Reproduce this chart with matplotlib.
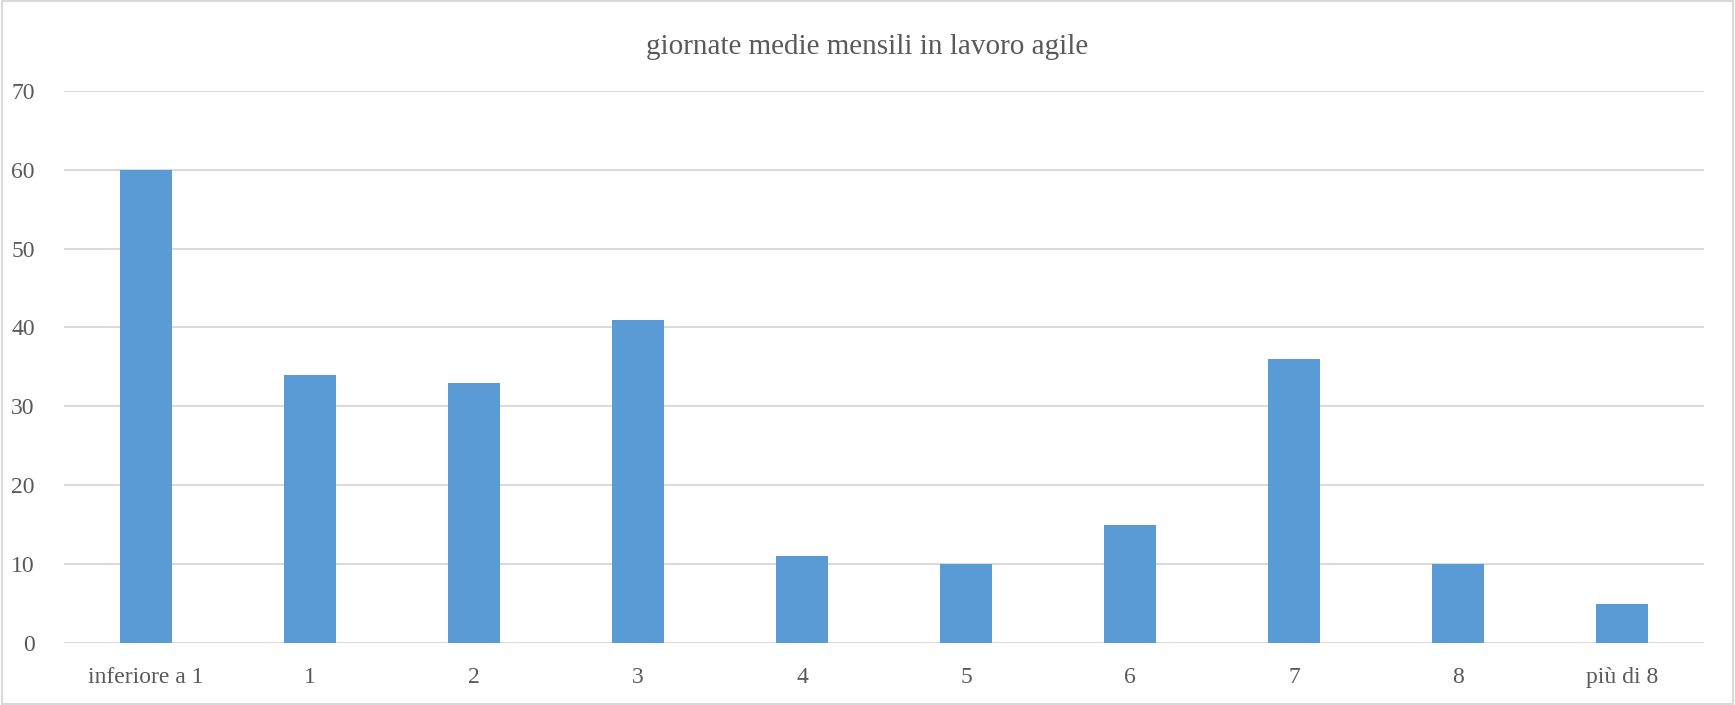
import matplotlib.pyplot as plt
import matplotlib.patches as patches
import numpy as np

# giornate medie mensili in lavoro agile
categorie = ["inferiore a 1", "1", "2", "3", "4", "5", "6", "7", "8", "più di 8"]
valori = [60, 34, 33, 41, 11, 10, 15, 36, 10, 5]
tacche_y = [0, 10, 20, 30, 40, 50, 60, 70]

plt.rcParams['font.family'] = ['Liberation Serif', 'DejaVu Serif']
grigio = "#595959"

fig = plt.figure(figsize=(17.35, 7.05), dpi=100)
ax = fig.add_axes([0.0369, 0.088, 0.9452, 0.7833])

x = np.arange(len(categorie))
ax.bar(x, valori, width=0.32, color="#5B9BD5", linewidth=0, zorder=3)
ax.set_xlim(-0.5, len(categorie) - 0.5)
ax.set_ylim(0, 70)
ax.set_yticks(tacche_y)
ax.set_xticks(x)
ax.set_xticklabels(categorie)
ax.yaxis.grid(True, color="#D9D9D9", linewidth=1.4, zorder=0)
ax.set_axisbelow(True)
for s in ax.spines.values():
    s.set_visible(False)
ax.tick_params(axis="both", length=0, labelsize=17, colors=grigio)
ax.tick_params(axis="x", pad=17)
ax.tick_params(axis="y", pad=21)

fig.text(0.5, 0.934, "giornate medie mensili in lavoro agile", ha="center", va="center",
         fontsize=21, color=grigio)

# cornice del grafico
fig.patches.append(patches.Rectangle((0.001, 0.001), 0.998, 0.997, transform=fig.transFigure,
                                     fill=False, edgecolor="#D9D9D9", linewidth=1.5))

plt.savefig("out.png", dpi=100)
plt.close()
